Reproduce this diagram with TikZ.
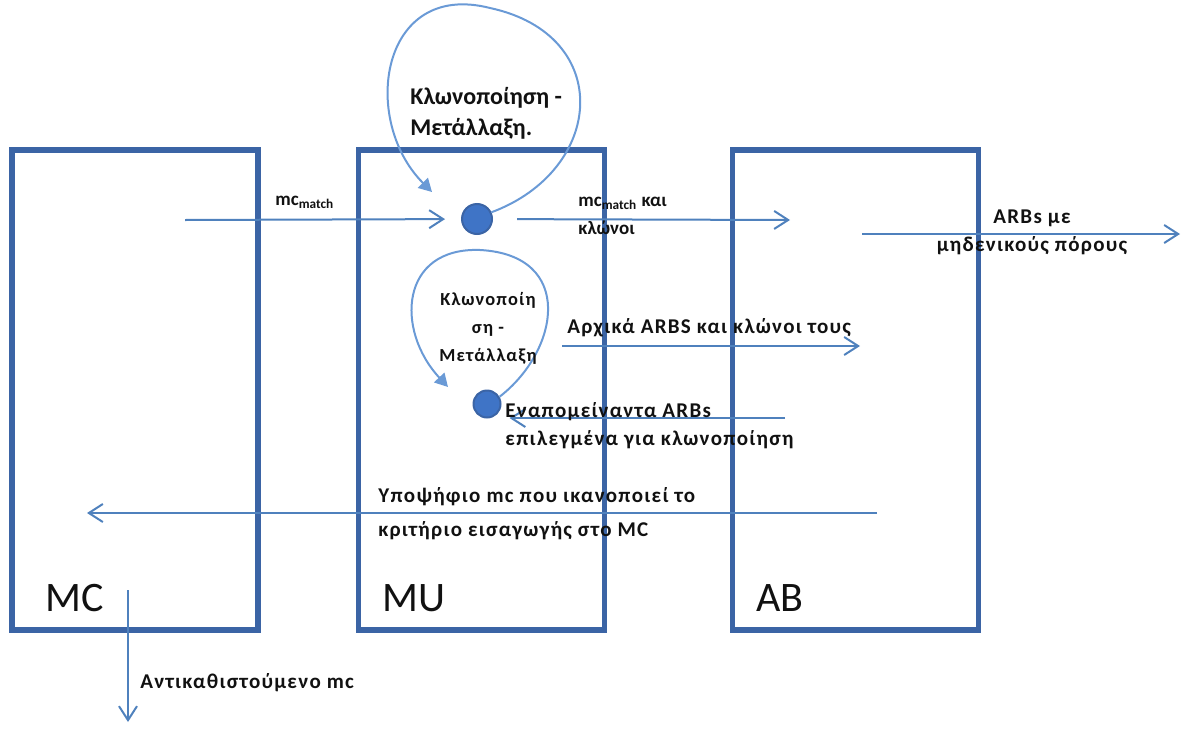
\documentclass[tikz,border=0pt]{standalone}
\usepackage{fontspec}
\setmainfont{Carlito}
\usetikzlibrary{arrows.meta}

\definecolor{boxblue}{HTML}{3B64A5}
\definecolor{lineblue}{HTML}{4F81BD}
\definecolor{loopblue}{HTML}{6A9AD6}
\definecolor{dotblue}{HTML}{3F74C6}
\definecolor{ink}{HTML}{111111}

\newcommand{\widetxt}[1]{\fontsize{#1}{14}\bfseries\addfontfeatures{LetterSpace=6}}

\begin{document}
\begin{tikzpicture}[x=0.5pt, y=-0.5pt, every node/.style={font=\widetxt{10.5}, text=ink, inner sep=0pt}, blk/.style={draw=boxblue, line width=2.6pt, minimum width=123pt, minimum height=240pt}, tag/.style={font=\fontsize{21}{24}\selectfont, anchor=west}, dot/.style={circle, draw=boxblue, line width=1pt, fill=dotblue}, flow/.style={draw=lineblue, line width=1pt, -{Straight Barb[length=7pt,width=9pt]}}, loopln/.style={draw=loopblue, line width=1pt, -{Triangle[length=6.5pt,width=7pt]}}, lbl/.style={align=left, anchor=west}]
\useasboundingbox (0,0) rectangle (1181,728);
% blocks
\node[blk] (mc) at (135,390) {};
\node[blk] (mu) at (481.5,390) {};
\node[blk] (ab) at (855.5,390) {};
\node[tag] (mctag) at (45,598) {MC};
\node[tag] (mutag) at (382,598) {MU};
\node[tag] (abtag) at (756,598) {AB};
% clone points
\node[dot, minimum size=15pt] (c1) at (477,219) {};
\node[dot, minimum size=13.5pt] (c2) at (487,404) {};
% free ends
\coordinate (in1) at (185,220);
\coordinate (out1) at (790,220);
\coordinate (zs) at (862,234);
\coordinate (ze) at (1180,234);
\coordinate (as) at (562,346);
\coordinate (ae) at (860,346);
\coordinate (rs) at (785,418);
\coordinate (cs) at (877,513);
\coordinate (ce) at (87,513);
\coordinate (ds) at (128,590);
\coordinate (de) at (128,722);
\coordinate (tip1) at (432,192);
\coordinate (tip2) at (448,387);
% connectors
\draw[flow, shorten >=8pt] (in1) -- (c1);
\draw[flow, shorten <=12pt] (c1) -- (out1);
\draw[flow] (zs) -- (ze);
\draw[flow] (as) -- (ae);
\draw[flow, shorten >=4pt] (rs) -- (rs -| c2.east);
\draw[flow] (cs) -- (ce);
\draw[flow] (ds) -- (de);
\draw[loopln] (c1.25) .. controls (605,170) and (615,35) .. (490,8) .. controls (380,-20) and (360,120) .. (tip1);
\draw[loopln] (c2.30) .. controls (560,350) and (575,255) .. (480,250) .. controls (400,247) and (395,330) .. (tip2);
% labels
\node[lbl, font=\fontsize{9.5}{14}\bfseries] (l1) at (275,202) {mc\textsubscript{match}};
\node[lbl, font=\fontsize{9.5}{14}\bfseries] (l2) at (578,216) {mc\textsubscript{match} και\\κλώνοι};
\node[align=center] (l3) at (1032,232) {ARBs με\\μηδενικούς πόρους};
\node[lbl, font=\fontsize{12}{15.5}\bfseries] (l4) at (410,113) {Κλωνοποίηση -\\Μετάλλαξη.};
\node[align=center, font=\widetxt{9.2}] (l5) at (488,328) {Κλωνοποίη\\ση -\\Μετάλλαξη};
\node[lbl] (l6) at (567,328) {Αρχικά ARBS και κλώνοι τους};
\node[lbl] (l7) at (505,426) {Εναπομείναντα ARBs\\επιλεγμένα για κλωνοποίηση};
\node[lbl, font=\fontsize{10.5}{17}\bfseries\addfontfeatures{LetterSpace=6}] (l8) at (378,514) {Υποψήφιο mc που ικανοποιεί το\\κριτήριο εισαγωγής στο MC};
\node[lbl] (l9) at (140,683) {Αντικαθιστούμενο mc};
\end{tikzpicture}
\end{document}
